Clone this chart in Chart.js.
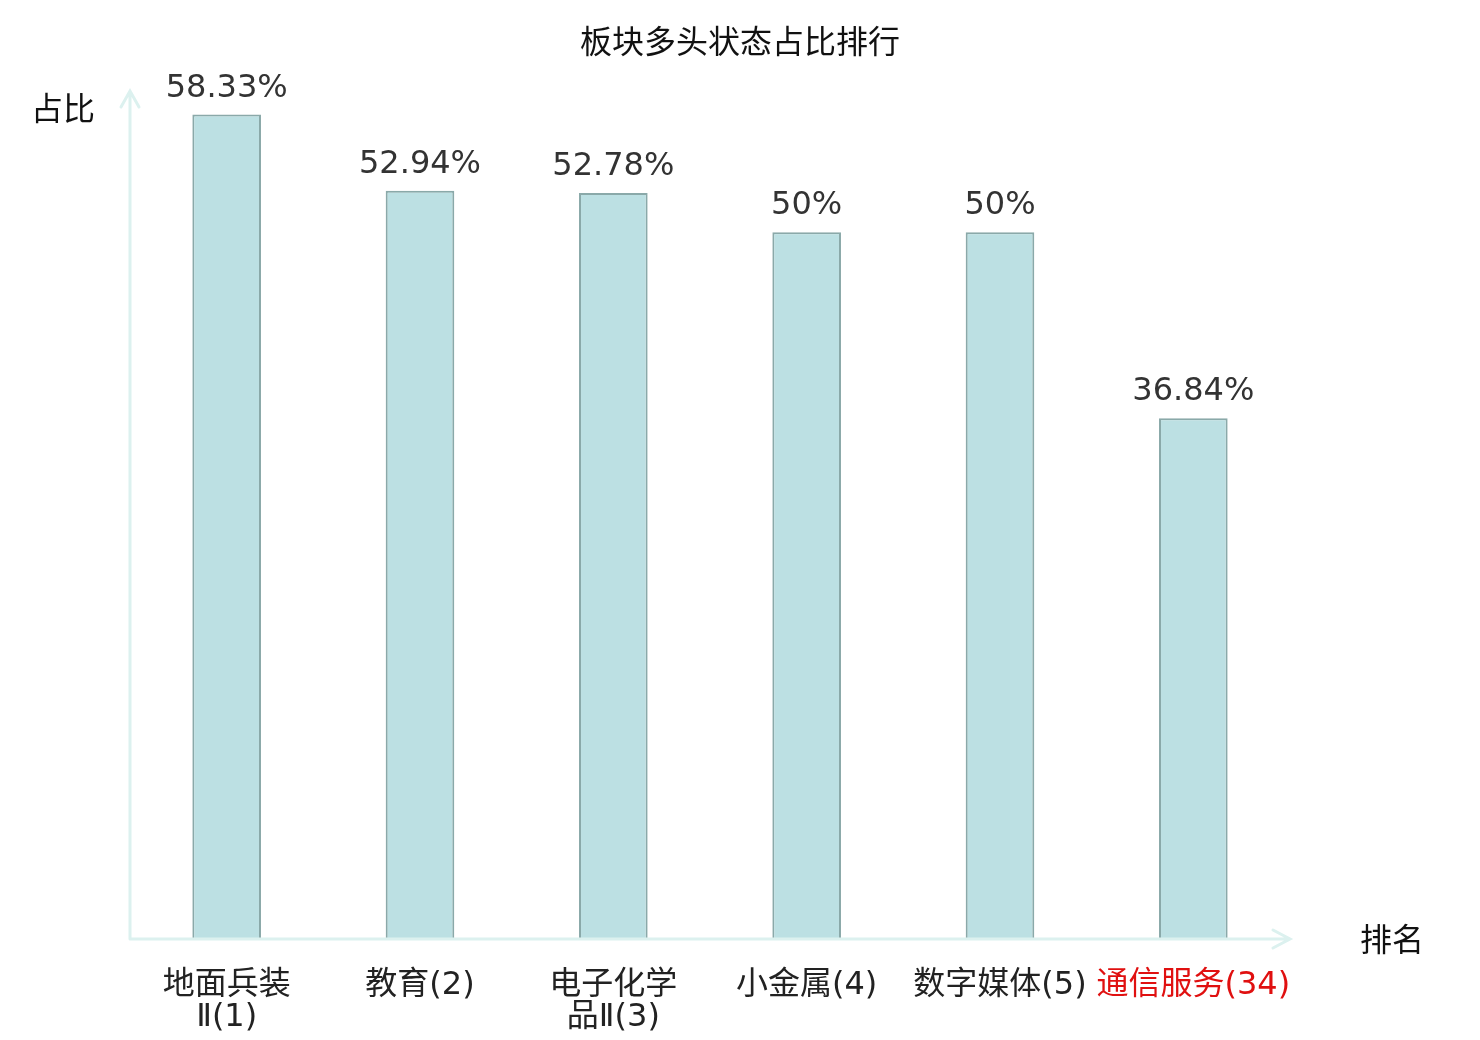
<!DOCTYPE html>
<html>
<head>
<meta charset="utf-8">
<script src="https://cdn.jsdelivr.net/npm/chart.js@4/dist/chart.umd.min.js"></script>
<style>
html,body{margin:0;padding:0;background:#fff;}
#wrap{width:1480px;height:1040px;}
</style>
</head>
<body>
<div id="wrap"><canvas id="c" width="1480" height="1040"></canvas></div>
<script>
const categories = [['地面兵装','Ⅱ(1)'], '教育(2)', ['电子化学','品Ⅱ(3)'], '小金属(4)', '数字媒体(5)', '通信服务(34)'];
const values = [58.33, 52.94, 52.78, 50, 50, 36.84];
const valueLabels = ['58.33%', '52.94%', '52.78%', '50%', '50%', '36.84%'];
const labelColors = ['#222', '#222', '#222', '#222', '#222', '#e01010'];
const titleText = '板块多头状态占比排行';
const yName = '占比';
const xName = '排名';

const FONT = "'DejaVu Sans', 'Noto Sans CJK SC', sans-serif";
const TICKFONT = "'DejaVu Sans', 'Noto Sans CJK SC', sans-serif";
const AXIS = '#dcf1ef';

const deco = {
  id: 'deco',
  afterDatasetsDraw(chart) {
    const ctx = chart.ctx;
    const xs = chart.scales.x, ys = chart.scales.y;
    const x0 = xs.left, y0 = ys.getPixelForValue(0);
    const yTop = ys.getPixelForValue(ys.max);
    ctx.save();
    ctx.strokeStyle = AXIS;
    ctx.lineWidth = 3;
    ctx.lineCap = 'round';
    ctx.beginPath();
    ctx.moveTo(x0, y0); ctx.lineTo(x0, yTop);
    ctx.moveTo(x0 - 9, yTop + 16); ctx.lineTo(x0, yTop); ctx.lineTo(x0 + 9, yTop + 16);
    ctx.moveTo(x0, y0); ctx.lineTo(xs.right, y0);
    ctx.moveTo(xs.right - 17, y0 - 9); ctx.lineTo(xs.right, y0); ctx.lineTo(xs.right - 17, y0 + 9);
    ctx.stroke();

    // data labels
    const meta = chart.getDatasetMeta(0);
    ctx.fillStyle = '#333';
    ctx.font = '32px ' + FONT;
    ctx.textAlign = 'center';
    ctx.textBaseline = 'alphabetic';
    meta.data.forEach((bar, i) => {
      ctx.fillText(valueLabels[i], bar.x, bar.y - 18);
    });

    // title and axis names
    ctx.fillStyle = '#111';
    ctx.font = '32px ' + FONT;
    ctx.textBaseline = 'middle';
    ctx.fillText(titleText, 740, 45);
    ctx.fillText(yName, 63, 112);
    ctx.fillText(xName, 1392, 943);
    ctx.restore();
  }
};

new Chart(document.getElementById('c'), {
  type: 'bar',
  data: {
    labels: categories,
    datasets: [{
      data: values,
      backgroundColor: '#bce0e3',
      borderColor: '#8aa9a9',
      borderWidth: 2,
      barPercentage: 0.355,
      categoryPercentage: 1
    }]
  },
  options: {
    responsive: false,
    animation: false,
    devicePixelRatio: 1,
    layout: { padding: { left: 130, right: 190, top: 91, bottom: 9 } },
    plugins: { legend: { display: false }, title: { display: false }, tooltip: { enabled: false } },
    scales: {
      x: {
        grid: { display: false, drawTicks: false },
        border: { display: false },
        afterFit: (scale) => { scale.height = 92; },
        ticks: {
          autoSkip: false,
          maxRotation: 0,
          minRotation: 0,
          padding: 31,
          font: { family: TICKFONT, size: 32, lineHeight: 1.0 },
          color: (c) => labelColors[c.index]
        }
      },
      y: {
        display: false,
        min: 0,
        max: 60
      }
    }
  },
  plugins: [deco]
});
</script>
</body>
</html>
